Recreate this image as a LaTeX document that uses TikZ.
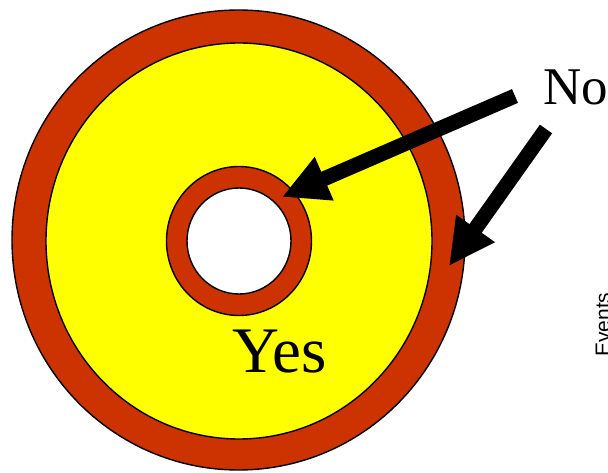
\documentclass[tikz,border=0pt]{standalone}
\usepackage{fontspec}
\setmainfont{Liberation Serif}
\newfontfamily\eventsfont{Liberation Sans}
\usetikzlibrary{arrows.meta}
\definecolor{ringred}{RGB}{204,51,0}
\definecolor{discyellow}{RGB}{255,255,0}
\tikzset{
    bigarrow/.style={line width=15pt, -{Triangle[length=46pt, width=44pt]}},
    rim/.style={line width=1.4pt}
}
\begin{document}
\begin{tikzpicture}[x=1pt, y=-1pt]

        \useasboundingbox (0,0) rectangle (608,473);
        \clip (0,0) rectangle (608,473);

        % outer red ring
        \fill[ringred] (238.5,240) ellipse [x radius=226.5, y radius=230];
        \draw[rim] (238.5,240) ellipse [x radius=226.5, y radius=230];

        % yellow disc
        \fill[discyellow] (239,241) ellipse [x radius=193, y radius=198];
        \draw[rim] (239,241) ellipse [x radius=193, y radius=198];

        % inner red ring and hole
        \fill[ringred] (239,241) ellipse [x radius=72.5, y radius=74.5];
        \draw[rim] (239,241) ellipse [x radius=72.5, y radius=74.5];
        \fill[white] (239,241) ellipse [x radius=52, y radius=53];
        \draw[rim] (239,241) ellipse [x radius=52, y radius=53];

        % labels
        \node[anchor=base west, inner sep=0, font=\fontsize{65}{65}\selectfont] (yes) at (232,372) {Yes};
        \node[anchor=base west, inner sep=0, font=\fontsize{53}{53}\selectfont] (no) at (543,105) {No};
        \node[rotate=90, anchor=base west, inner sep=0, font=\eventsfont\fontsize{21}{21}\selectfont] (events) at (610,357) {Events};

        % arrows
        \coordinate (tailA) at (515,96);
        \coordinate (tipA) at (282,197);
        \coordinate (tailB) at (546,129);
        \coordinate (tipB) at (449,266);
        \draw[bigarrow] (tailA) -- (tipA);
        \draw[bigarrow] (tailB) -- (tipB);

    \end{tikzpicture}
\end{document}
